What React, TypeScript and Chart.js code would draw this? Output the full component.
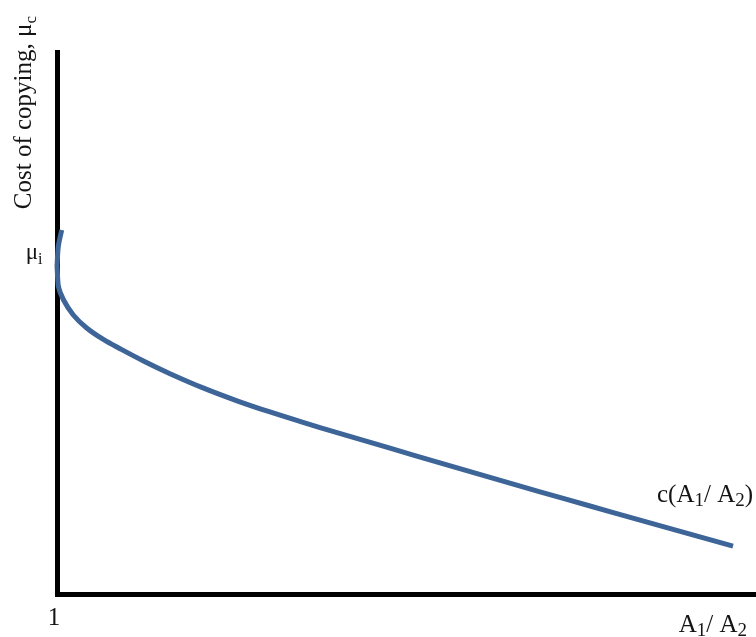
import React, { useEffect, useRef } from 'react';
import { Chart, registerables } from 'chart.js';

Chart.register(...registerables);

// Data (x = A1/A2 ratio, y = cost of copying)
const ratioValues = [
  1.06, 1.011, 0.993, 1.011, 1.083, 1.226, 1.418, 1.656, 1.895, 2.224, 2.611, 3.083,
  3.57, 4.042, 4.515, 5.002, 5.76, 6.476, 7.192, 7.908, 8.624, 9.34, 10.056, 10.671,
];
const costValues = [
  6.716, 6.408, 6.052, 5.683, 5.434, 5.148, 4.908, 4.696, 4.526, 4.304, 4.065, 3.803,
  3.565, 3.358, 3.166, 2.978, 2.69, 2.419, 2.151, 1.886, 1.624, 1.363, 1.105, 0.884,
];

const xMin = 1;
const xMax = 11;
const yMin = 0;
const yMax = 10;

const xTickValue = 1;
const xTickLabel: [string, boolean][] = [['1', false]];
const yTickValue = 6.25;
const yTickLabel: [string, boolean][] = [['μ', false], ['i', true]];
const xTitle: [string, boolean][] = [['A', false], ['1', true], ['/ A', false], ['2', true]];
const yTitle: [string, boolean][] = [['Cost of copying, μ', false], ['c', true]];
const curveLabel: [string, boolean][] = [['c(A', false], ['1', true], ['/ A', false], ['2', true], [')', false]];

const FONT_FAMILY = '"Liberation Serif", "DejaVu Serif", serif';
const TEXT_COLOR = '#141414';
const LINE_COLOR = '#3d6598';

type Parts = [string, boolean][];

function fontOf(size: number) {
  return `${size}px ${FONT_FAMILY}`;
}

function drawRich(
  ctx: CanvasRenderingContext2D,
  parts: Parts,
  x: number,
  y: number,
  size: number,
  align: 'left' | 'right' | 'center',
  subRatio = 0.75,
  subShift = 0.15
) {
  const subSize = Math.round(size * subRatio);
  let w = 0;
  for (const [t, sub] of parts) {
    ctx.font = fontOf(sub ? subSize : size);
    w += ctx.measureText(t).width;
  }
  let cx = align === 'right' ? x - w : align === 'center' ? x - w / 2 : x;
  ctx.textAlign = 'left';
  ctx.textBaseline = 'alphabetic';
  ctx.fillStyle = TEXT_COLOR;
  for (const [t, sub] of parts) {
    ctx.font = fontOf(sub ? subSize : size);
    ctx.fillText(t, cx, sub ? y + size * subShift : y);
    cx += ctx.measureText(t).width;
  }
}

const labelsPlugin = {
  id: 'richLabels',
  afterDraw(chart: any) {
    const { ctx, chartArea, scales } = chart;
    const xs = scales.x;
    const ys = scales.y;
    ctx.save();

    // y-axis title (rotated)
    ctx.save();
    ctx.translate(chartArea.left - 26.5, chartArea.top - 36);
    ctx.rotate(-Math.PI / 2);
    drawRich(ctx, yTitle, 0, 0, 25, 'right', 0.68, 0.2);
    ctx.restore();

    // y tick label
    drawRich(ctx, yTickLabel, chartArea.left - 15, ys.getPixelForValue(yTickValue) + 4, 23, 'right', 0.68, 0.2);

    // x tick label
    drawRich(ctx, xTickLabel, xs.getPixelForValue(xTickValue) - 3.5, chartArea.bottom + 31, 25, 'center');

    // x-axis title
    drawRich(ctx, xTitle, chartArea.right - 9, chartArea.bottom + 38, 25, 'right');

    // curve label near the end of the curve
    const lastX = xs.getPixelForValue(ratioValues[ratioValues.length - 1]);
    const lastY = ys.getPixelForValue(costValues[costValues.length - 1]);
    drawRich(ctx, curveLabel, lastX + 20, lastY - 44, 25, 'right');

    ctx.restore();
  },
};

export default function App() {
  const canvasRef = useRef<HTMLCanvasElement | null>(null);

  useEffect(() => {
    document.body.style.margin = '0';
    const canvas = canvasRef.current;
    if (!canvas) return;
    const chart = new Chart(canvas, {
      type: 'line',
      data: {
        datasets: [
          {
            label: 'c(A1/A2)',
            data: ratioValues.map((x, i) => ({ x, y: costValues[i] })),
            borderColor: LINE_COLOR,
            borderWidth: 5,
            pointRadius: 0,
            tension: 0.35,
            fill: false,
            clip: 10,
            borderCapStyle: 'butt',
          },
        ],
      },
      options: {
        animation: false,
        responsive: false,
        events: [],
        layout: { padding: { left: 57.5, top: 52, right: 0, bottom: 43 } },
        plugins: {
          legend: { display: false },
          tooltip: { enabled: false },
          title: { display: false },
        },
        scales: {
          x: {
            type: 'linear',
            min: xMin,
            max: xMax,
            grid: { display: false, drawTicks: false },
            ticks: { display: false },
            border: { display: true, width: 5, color: '#000' },
          },
          y: {
            type: 'linear',
            min: yMin,
            max: yMax,
            grid: { display: false, drawTicks: false },
            ticks: { display: false },
            border: { display: true, width: 5, color: '#000' },
          },
        },
      },
      plugins: [labelsPlugin],
    } as any);
    return () => chart.destroy();
  }, []);

  return (
    <div style={{ width: 756, height: 637, background: '#fff' }}>
      <canvas ref={canvasRef} width={756} height={637} />
    </div>
  );
}
